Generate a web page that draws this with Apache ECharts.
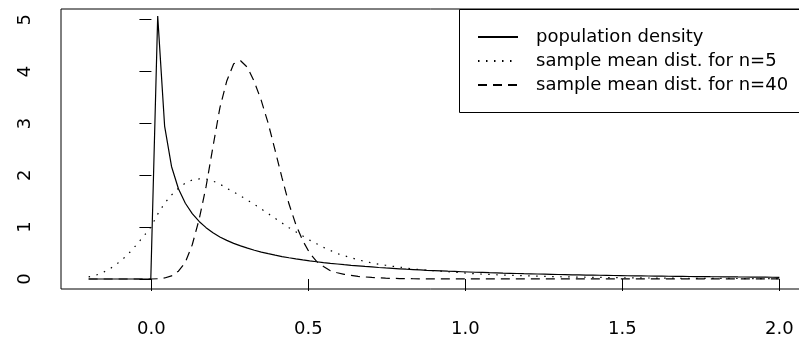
<!DOCTYPE html>
<html><head><meta charset="utf-8">
<script src="https://cdn.jsdelivr.net/npm/echarts@6/dist/echarts.min.js"></script>
<style>html,body{margin:0;padding:0;background:#fff}#c{width:799px;height:341px}</style>
</head><body><div id="c"></div>
<script>
// x grid on which the densities were evaluated
const xs = [-0.2,-0.178,-0.156,-0.134,-0.112,-0.09,-0.068,-0.046,-0.024,-0.002,
0.02,0.042,0.064,0.086,0.108,0.13,0.152,0.174,0.196,0.218,
0.24,0.262,0.284,0.306,0.328,0.35,0.372,0.394,0.416,0.438,
0.46,0.482,0.504,0.526,0.548,0.57,0.592,0.614,0.636,0.658,
0.68,0.702,0.724,0.746,0.768,0.79,0.812,0.834,0.856,0.878,
0.9,0.922,0.944,0.966,0.988,1.01,1.032,1.054,1.076,1.098,
1.12,1.142,1.164,1.186,1.208,1.23,1.252,1.274,1.296,1.318,
1.34,1.362,1.384,1.406,1.428,1.45,1.472,1.494,1.516,1.538,
1.56,1.582,1.604,1.626,1.648,1.67,1.692,1.714,1.736,1.758,
1.78,1.802,1.824,1.846,1.868,1.89,1.912,1.934,1.956,1.978,2.0];

const popDensity = [0,0,0,0,0,0,0,0,0,0,
5.07,2.95,2.17,1.74,1.46,1.26,1.11,0.99,0.89,0.81,
0.745,0.687,0.638,0.594,0.554,0.519,0.488,0.459,0.433,0.41,
0.389,0.369,0.35,0.333,0.317,0.302,0.289,0.276,0.264,0.253,
0.242,0.232,0.222,0.213,0.205,0.197,0.189,0.182,0.175,0.168,
0.162,0.156,0.15,0.145,0.14,0.135,0.13,0.126,0.121,0.117,
0.113,0.11,0.106,0.102,0.099,0.096,0.093,0.09,0.087,0.084,
0.081,0.079,0.076,0.074,0.072,0.07,0.067,0.065,0.063,0.062,
0.06,0.058,0.056,0.055,0.053,0.051,0.05,0.048,0.047,0.046,
0.044,0.043,0.042,0.041,0.039,0.038,0.037,0.036,0.035,0.034,0.033];

const meanN5 = [0.04,0.07,0.12,0.19,0.28,0.39,0.52,0.67,0.83,1.0,
1.25,1.46,1.62,1.75,1.85,1.91,1.93,1.93,1.89,1.83,
1.75,1.68,1.6,1.52,1.44,1.35,1.26,1.17,1.08,0.99,
0.91,0.83,0.75,0.68,0.61,0.55,0.49,0.45,0.41,0.37,
0.34,0.31,0.285,0.265,0.245,0.23,0.21,0.195,0.18,0.17,
0.16,0.15,0.14,0.13,0.12,0.11,0.1,0.095,0.088,0.082,
0.076,0.071,0.066,0.062,0.058,0.054,0.05,0.047,0.044,0.041,
0.038,0.036,0.034,0.032,0.03,0.028,0.026,0.025,0.023,0.022,
0.021,0.019,0.018,0.017,0.016,0.015,0.014,0.014,0.013,0.012,
0.012,0.011,0.01,0.01,0.009,0.009,0.008,0.008,0.008,0.007,0.007];

const meanN40 = [0,0,0,0,0,0,0,0,0,0,
0.005,0.02,0.06,0.15,0.32,0.66,1.15,1.78,2.55,3.3,
3.82,4.15,4.21,4.08,3.8,3.44,3.0,2.48,1.95,1.45,
1.05,0.74,0.5,0.34,0.24,0.16,0.12,0.09,0.07,0.05,
0.04,0.03,0.022,0.016,0.012,0.009,0.007,0.005,0.004,0.003,
0.002,0.002,0.002,0.002,0.002,0.002,0.002,0.002,0.002,0.002,
0.002,0.001,0.001,0.001,0.001,0.001,0.001,0.001,0.001,0.001,
0.001,0.001,0.001,0.001,0.001,0.001,0.001,0.001,0.001,0.001,
0.001,0.001,0.001,0.001,0.001,0.001,0.001,0.001,0.001,0.001,
0.001,0.001,0.001,0.001,0.001,0.001,0.001,0.001,0.001,0.001,0.001];

const seriesNames = ['population density', 'sample mean dist. for n=5', 'sample mean dist. for n=40'];
const xTicks = [0, 0.5, 1, 1.5, 2];
const yTicks = [0, 1, 2, 3, 4, 5];

function pairs(ys) { return xs.map((x, i) => [x, ys[i]]); }
const FONT = 'DejaVu Sans';
const LW = 1.2;

const chart = echarts.init(document.getElementById('c'), null, { renderer: 'canvas' });
chart.setOption({
  animation: false,
  backgroundColor: '#fff',
  grid: { left: 61, right: -8, top: 9, bottom: 52, show: true, borderColor: '#000', borderWidth: 1,
    backgroundColor: 'transparent', outerBoundsMode: 'none', containLabel: false },
  xAxis: {
    type: 'value', min: -0.288, max: 2.088,
    splitLine: { show: false }, axisLine: { show: false },
    axisTick: { show: true, customValues: xTicks, length: 12, lineStyle: { color: '#000', width: 1 } },
    axisLabel: { customValues: xTicks, formatter: v => v.toFixed(1), fontFamily: FONT, fontSize: 18, color: '#000', margin: 31 }
  },
  yAxis: {
    type: 'value', min: -0.193, max: 5.207,
    splitLine: { show: false }, axisLine: { show: false },
    axisTick: { show: true, customValues: yTicks, length: 12, lineStyle: { color: '#000', width: 1 } },
    axisLabel: { customValues: yTicks, rotate: 90, fontFamily: FONT, fontSize: 18, color: '#000', margin: 27 }
  },
  graphic: [{
    type: 'rect', z: 3, silent: true,
    shape: { x: 459.5, y: 9.5, width: 380, height: 103 },
    style: { fill: '#fff', stroke: '#000', lineWidth: 1 }
  }],
  legend: {
    left: 459, top: 9, orient: 'vertical', align: 'left', z: 4,
    padding: [19, 20, 18, 18], itemGap: 6, itemWidth: 40, itemHeight: 14,
    borderWidth: 0, backgroundColor: 'transparent',
    itemStyle: { opacity: 0, color: 'transparent', borderWidth: 0 },
    textStyle: { fontFamily: FONT, fontSize: 18, color: '#000', padding: [0, 0, 0, 13] },
    data: seriesNames
  },
  series: [
    { name: seriesNames[0], type: 'line', data: pairs(popDensity), symbol: 'none', showSymbol: false,
      lineStyle: { color: '#000', width: LW, type: 'solid' }, itemStyle: { color: '#000' } },
    { name: seriesNames[1], type: 'line', data: pairs(meanN5), symbol: 'none', showSymbol: false,
      lineStyle: { color: '#000', width: LW, type: [1.5, 6.5] }, itemStyle: { color: '#000' } },
    { name: seriesNames[2], type: 'line', data: pairs(meanN40), symbol: 'none', showSymbol: false,
      lineStyle: { color: '#000', width: LW, type: [9, 6] }, itemStyle: { color: '#000' } }
  ]
});
</script></body></html>
